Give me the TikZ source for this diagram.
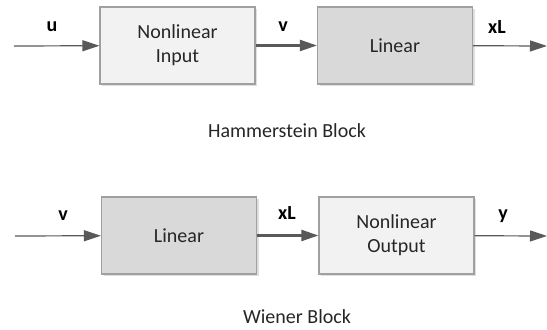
\documentclass[tikz,border=0pt]{standalone}
\usepackage{fontspec}
\setmainfont{Carlito}
\usetikzlibrary{arrows.meta,shadows}
\definecolor{linegray}{HTML}{A6A6A6}
\definecolor{arrowgray}{HTML}{595959}
\definecolor{boxedge}{HTML}{A0A0A0}
\definecolor{lightbox}{HTML}{F2F2F2}
\definecolor{darkbox}{HTML}{D9D9D9}
\definecolor{textgray}{HTML}{262626}

\begin{document}
\begin{tikzpicture}[x=0.5pt, y=-0.5pt, font=\fontsize{10}{12}\selectfont, text=textgray,
	block/.style={draw=boxedge, line width=0.6pt, minimum width=77.5pt, minimum height=38.5pt,
		align=center, drop shadow={shadow xshift=1.2pt, shadow yshift=-1.2pt, opacity=0.25}},
	nlblock/.style={block, fill=lightbox},
	linblock/.style={block, fill=darkbox},
	tip/.style={-{Triangle[length=8.5pt, width=5.5pt]}},
	signal/.style={tip, draw=linegray, line width=0.6pt, arrowgray},
	inner/.style={tip, draw=arrowgray, line width=1.1pt, arrowgray},
	sig/.style={font=\fontsize{10}{12}\selectfont\bfseries, text=black}]
			%%%%% START %%%%%
			\useasboundingbox (0, 0) rectangle (547, 330);
			
			%%%%% Hammerstein %%%%%
			\coordinate (hin) at (14, 46);
			\coordinate (hout) at (547, 46);
			\node[nlblock] (hnl) at (177.5, 45.5) {Nonlinear\\Input};
			\node[linblock] (hlin) at (395, 45.5) {Linear};
			
			\draw[signal] (hin) -- (hnl);
			\draw[inner] (hnl) -- (hlin);
			\draw[signal] (hlin) -- (hout);
			
			\node[sig] (hu) at (52, 27) {u};
			\node[sig] (hv) at (283, 27) {v};
			\node[sig] (hxl) at (497, 27) {xL};
			
			\node (htitle) at (287, 131) {Hammerstein Block};
			
			%%%%% Wiener %%%%%
			\coordinate (win) at (15, 236);
			\coordinate (wout) at (547, 236);
			\node[linblock] (wlin) at (179, 235.5) {Linear};
			\node[nlblock] (wnl) at (396.5, 235.5) {Nonlinear\\Output};
			
			\draw[signal] (win) -- (wlin);
			\draw[inner] (wlin) -- (wnl);
			\draw[signal] (wnl) -- (wout);
			
			\node[sig] (wv) at (63, 216) {v};
			\node[sig] (wxl) at (287, 213) {xL};
			\node[sig] (wy) at (503, 216) {y};
			
			\node (wtitle) at (297, 317) {Wiener Block};
			%%%%% END %%%%%
\end{tikzpicture}
\end{document}
